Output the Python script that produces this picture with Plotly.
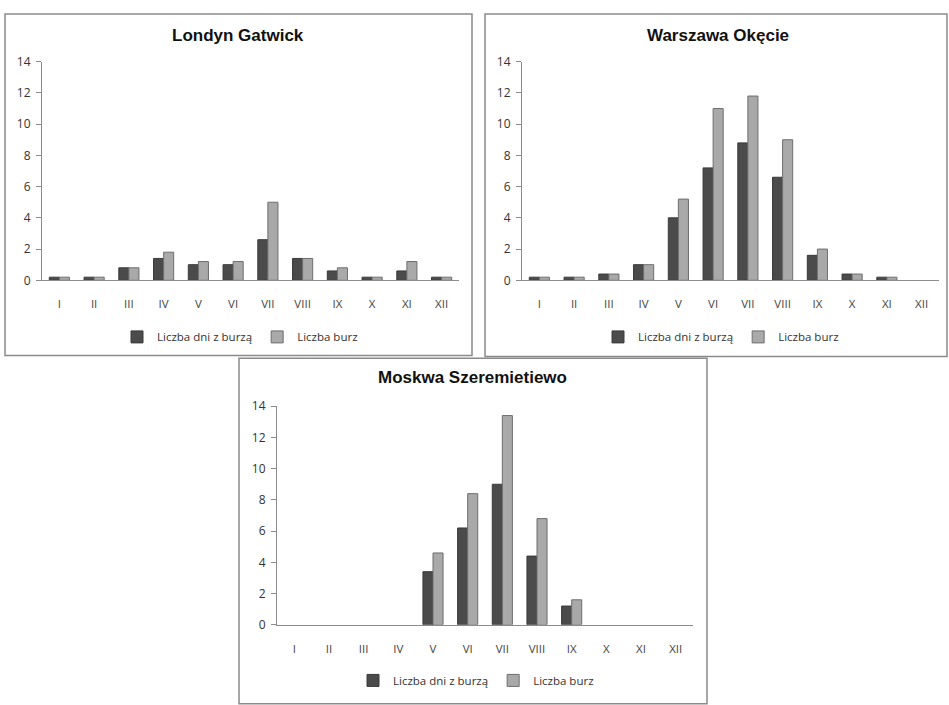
import plotly.graph_objects as go

W, H = 949, 705

months = ["I", "II", "III", "IV", "V", "VI", "VII", "VIII", "IX", "X", "XI", "XII"]
series_names = ["Liczba dni z burzą", "Liczba burz"]

londyn_dni = [0.2, 0.2, 0.8, 1.4, 1.0, 1.0, 2.6, 1.4, 0.6, 0.2, 0.6, 0.2]
londyn_burze = [0.2, 0.2, 0.8, 1.8, 1.2, 1.2, 5.0, 1.4, 0.8, 0.2, 1.2, 0.2]

warszawa_dni = [0.2, 0.2, 0.4, 1.0, 4.0, 7.2, 8.8, 6.6, 1.6, 0.4, 0.2, 0.0]
warszawa_burze = [0.2, 0.2, 0.4, 1.0, 5.2, 11.0, 11.8, 9.0, 2.0, 0.4, 0.2, 0.0]

moskwa_dni = [0.0, 0.0, 0.0, 0.0, 3.4, 6.2, 9.0, 4.4, 1.2, 0.0, 0.0, 0.0]
moskwa_burze = [0.0, 0.0, 0.0, 0.0, 4.6, 8.4, 13.4, 6.8, 1.6, 0.0, 0.0, 0.0]

titles = ["Londyn Gatwick", "Warszawa Okęcie", "Moskwa Szeremietiewo"]
y_ticks = [0, 2, 4, 6, 8, 10, 12, 14]

DARK = "#4b4b4b"
LIGHT = "#a9a9a9"
FONT = "Open Sans"

def px_x(v):
    return v / W

def px_y(v):
    return 1 - v / H

panels = [
    dict(plot=(42, 459, 54, 278), box=(5, 472, 5, 355), title=(238, 27), legend=(240, 336),
         data=(londyn_dni, londyn_burze)),
    dict(plot=(522, 939, 54, 278), box=(485, 947, 5, 356), title=(718, 27), legend=(721, 336),
         data=(warszawa_dni, warszawa_burze)),
    dict(plot=(277, 693, 407, 631), box=(239, 707, 358, 712), title=(472, 378), legend=(476, 688),
         data=(moskwa_dni, moskwa_burze)),
]

fig = go.Figure()
layout = dict(
    width=W, height=H, margin=dict(l=0, r=0, t=0, b=0),
    paper_bgcolor="white", plot_bgcolor="white",
    barmode="group", bargap=0.42, bargroupgap=0.0,
    font=dict(family=FONT, size=11, color="#333333"),
    shapes=[], annotations=[],
)

for i, p in enumerate(panels):
    n = "" if i == 0 else str(i + 1)
    xa, ya = "x" + n, "y" + n
    leg = "legend" + n
    dni, burze = p["data"]
    for name, vals, col, lc in [(series_names[0], dni, DARK, "#3a3a3a"),
                                (series_names[1], burze, LIGHT, "#6e6e6e")]:
        fig.add_trace(go.Bar(
            x=months, y=[v if v > 0 else None for v in vals], name=name,
            xaxis=xa, yaxis=ya, legend=leg,
            marker=dict(color=col, line=dict(color=lc, width=1)),
            showlegend=True,
        ))
    x0, x1, yt, yb = p["plot"]
    layout["xaxis" + n] = dict(
        domain=[px_x(x0), px_x(x1)], anchor=ya, type="category",
        showline=True, linecolor="#8c8c8c", linewidth=1, ticks="",
        showgrid=False, zeroline=False, ticklabelstandoff=13,
        tickfont=dict(family=FONT, size=11.5, color="#444444"), fixedrange=True,
    )
    layout["yaxis" + n] = dict(
        domain=[px_y(yb), px_y(yt)], anchor=xa, range=[0, 14],
        tickvals=y_ticks, showline=True, linecolor="#8c8c8c", linewidth=1,
        ticks="outside", ticklen=5, tickcolor="#8c8c8c",
        showgrid=False, zeroline=False, ticklabelstandoff=3,
        tickfont=dict(family=FONT, size=12, color="#333333"),
    )
    lx, ly = p["legend"]
    layout[leg] = dict(
        orientation="h", x=px_x(lx), y=px_y(ly), xanchor="center", yanchor="middle",
        font=dict(family=FONT, size=11.5, color="#333333"), bgcolor="rgba(0,0,0,0)",
        itemwidth=30,
    )
    bx0, bx1, by0, by1 = p["box"]
    layout["shapes"].append(dict(
        type="rect", xref="paper", yref="paper",
        x0=px_x(bx0), x1=px_x(bx1), y0=px_y(by1), y1=px_y(by0),
        line=dict(color="#8a8a8a", width=1.5), fillcolor="rgba(0,0,0,0)", layer="below",
    ))
    tx, ty = p["title"]
    layout["annotations"].append(dict(
        text="<b>" + titles[i] + "</b>", x=px_x(tx), y=px_y(ty), xref="paper", yref="paper",
        xanchor="center", yanchor="middle", showarrow=False,
        font=dict(family="Liberation Sans", size=17, color="#111111"),
    ))

fig.update_layout(**layout)
fig.write_html("out.html")
